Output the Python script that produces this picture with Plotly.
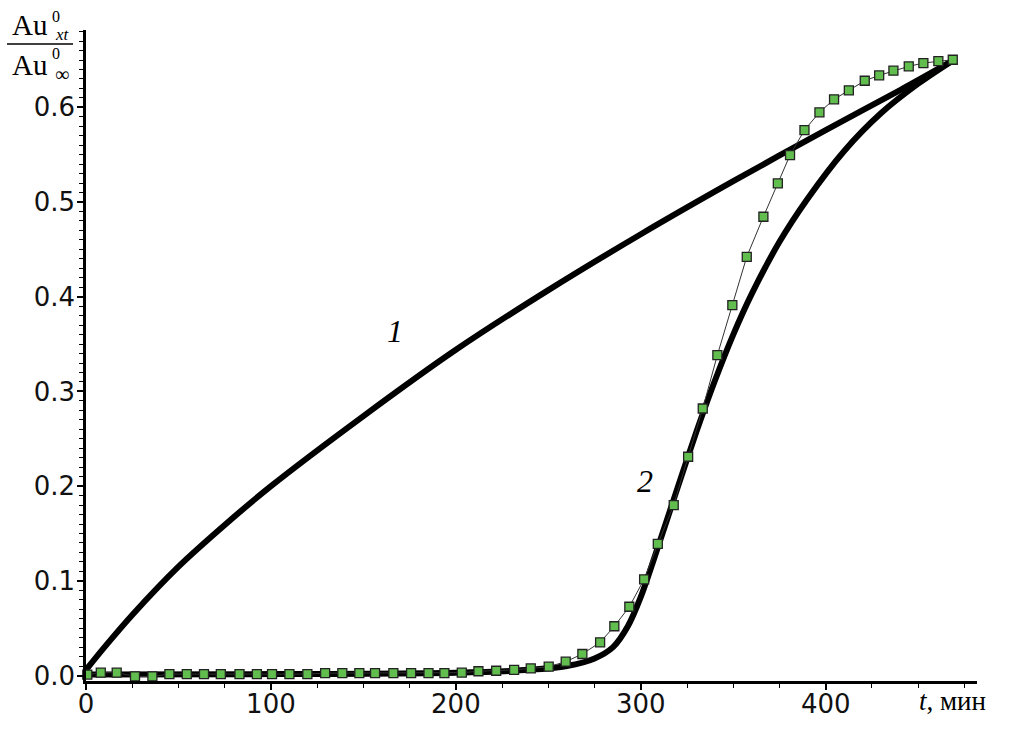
import plotly.graph_objects as go

# ---- data ----
t1 = [0, 10, 25, 50, 75, 100, 150, 200, 250, 300, 350, 400, 440, 467.5]
v1 = [0.006, 0.030, 0.064, 0.115, 0.159, 0.200, 0.274, 0.344, 0.407, 0.466, 0.522, 0.576,
      0.618, 0.648]

t2 = [0, 100, 200, 240, 260, 275, 285, 293, 300, 310, 320, 330, 340, 350, 360, 375, 390,
      410, 430, 450, 467.5]
v2 = [0.001, 0.0015, 0.003, 0.006, 0.010, 0.018, 0.030, 0.052, 0.083, 0.140, 0.199, 0.257,
      0.311, 0.360, 0.403, 0.458, 0.503, 0.554, 0.594, 0.625, 0.648]

t_exp = [0.7, 8.0, 16.6, 26.5, 35.9, 45.1, 54.5, 63.8, 72.9, 83.0, 92.4, 100.6, 110.0, 119.7,
         129.3, 138.6, 147.8, 156.3, 166.2, 175.8, 185.2, 193.8, 203.2, 212.2, 221.8, 231.5,
         240.5, 250.2, 259.4, 268.4, 278.0, 285.7, 293.8, 301.8, 309.2, 317.8, 325.6, 333.5,
         341.4, 349.5, 357.3, 366.3, 374.1, 380.7, 388.5, 396.6, 404.5, 412.5, 421.1, 428.9,
         436.6, 444.9, 452.8, 460.9, 468.7]
v_exp = [0.001, 0.003, 0.003, -0.001, -0.001, 0.0015, 0.0015, 0.0015, 0.0015, 0.0015, 0.0015,
         0.0015, 0.0015, 0.0015, 0.0025, 0.0025, 0.0025, 0.0025, 0.0025, 0.0025, 0.0025, 0.0025,
         0.003, 0.0045, 0.005, 0.006, 0.0075, 0.0093, 0.0146, 0.0227, 0.035, 0.052, 0.0726,
         0.1016, 0.139, 0.180, 0.231, 0.282, 0.3384, 0.3912, 0.4422, 0.4845, 0.5197, 0.5496,
         0.576, 0.5947, 0.6085, 0.618, 0.6281, 0.6338, 0.6387, 0.6433, 0.6468, 0.6489, 0.6503]

x_ticks = [0, 100, 200, 300, 400]
y_ticks = [0.0, 0.1, 0.2, 0.3, 0.4, 0.5, 0.6]
curve_labels = ["1", "2"]

# ---- layout geometry ----
W, H = 1010, 747
PL, PR, PT, PB = 86, 977, 30, 681
X_RANGE = [0, 481.8]
Y_RANGE = [-0.0058, 0.6817]


def xp(px):
    return (px - PL) / (PR - PL)


def yp(py):
    return (PB - py) / (PB - PT)


fig = go.Figure()
fig.add_trace(go.Scatter(x=t1, y=v1, mode="lines",
                         line=dict(color="black", width=6, shape="spline", smoothing=0.8),
                         showlegend=False, hoverinfo="skip"))
fig.add_trace(go.Scatter(x=t2, y=v2, mode="lines",
                         line=dict(color="black", width=6, shape="spline", smoothing=0.8),
                         showlegend=False, hoverinfo="skip"))
fig.add_trace(go.Scatter(x=t_exp, y=v_exp, mode="lines+markers",
                         line=dict(color="#333333", width=1),
                         marker=dict(symbol="square", size=9, color="#62bd4f",
                                     line=dict(color="#222222", width=1.3)),
                         showlegend=False, hoverinfo="skip", cliponaxis=False))

serif = "Liberation Serif"
sans = "DejaVu Sans"

ann = []


def add_text(text, px, py, size, xanchor="center", yanchor="middle"):
    ann.append(dict(text=text, x=xp(px), y=yp(py), xref="paper", yref="paper",
                    showarrow=False, xanchor=xanchor, yanchor=yanchor,
                    font=dict(family=serif, size=size, color="black")))


# y-axis title as a fraction
add_text("Au", 30, 25, 29)
add_text("0", 56, 16, 16)
add_text("<i>xt</i>", 62, 34, 17)
add_text("Au", 30, 65, 29)
add_text("0", 56, 54, 16)
add_text("∞", 62, 74, 20)
# x-axis title
add_text("<i>t</i>, мин", 988, 701, 27, xanchor="right")
# curve labels
add_text("<i>%s</i>" % curve_labels[0], 395, 331, 32)
add_text("<i>%s</i>" % curve_labels[1], 645, 481, 32)

shapes = [dict(type="line", xref="paper", yref="paper", x0=xp(7), x1=xp(73), y0=yp(44), y1=yp(44),
               line=dict(color="black", width=1.5))]

fig.update_layout(
    width=W, height=H,
    margin=dict(l=PL, r=W - PR, t=PT, b=H - PB),
    plot_bgcolor="white", paper_bgcolor="white",
    annotations=ann, shapes=shapes,
    xaxis=dict(range=X_RANGE, tickvals=x_ticks, ticktext=[str(v) for v in x_ticks],
               showgrid=False, zeroline=False, showline=True, linecolor="black", linewidth=2.5,
               ticks="outside", ticklen=6, tickwidth=1.5, tickcolor="black",
               ticklabelstandoff=-8,
               minor=dict(dtick=25, tick0=0, ticks="outside", ticklen=4, tickwidth=1, tickcolor="black"),
               tickfont=dict(family=sans, size=26, color="#111111")),
    yaxis=dict(range=Y_RANGE, tickvals=y_ticks, ticktext=["%.1f" % v for v in y_ticks],
               showgrid=False, zeroline=False, showline=True, linecolor="black", linewidth=2.5,
               ticks="outside", ticklen=6, tickwidth=1.5, tickcolor="black",
               ticklabelstandoff=-3,
               minor=dict(dtick=0.01, tick0=0, ticks="outside", ticklen=4, tickwidth=1, tickcolor="black"),
               tickfont=dict(family=sans, size=26, color="#111111")),
)

fig.write_html("out.html", config={"displayModeBar": False},
               post_script="document.body.style.margin='0';")
